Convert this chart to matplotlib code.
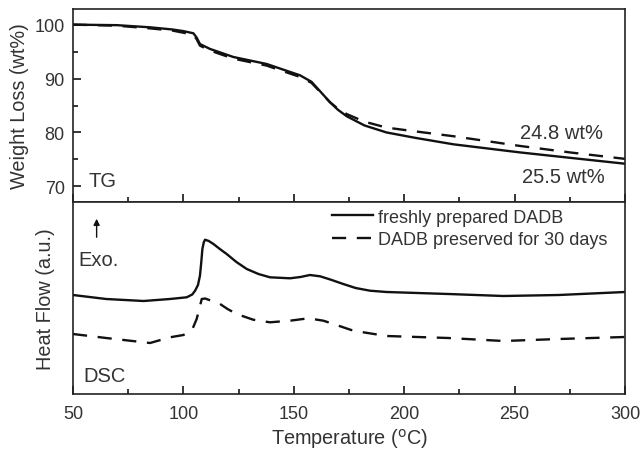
import matplotlib
matplotlib.use('Agg')
import matplotlib.pyplot as plt
import numpy as np

plt.rcParams['font.family'] = ['Liberation Sans', 'DejaVu Sans']

# TG curves (wt%)
tg_T = [50, 70, 85, 95, 100, 104.5, 106, 107.5, 112, 122.6, 137.7, 152.8, 158, 162, 166.4, 170, 174, 182, 192, 205, 222.3, 252.4, 275, 300]
tg_fresh = [100, 99.9, 99.5, 99.1, 98.8, 98.4, 97.6, 96.4, 95.5, 94.0, 92.7, 90.6, 89.4, 87.6, 85.6, 84.2, 83.0, 81.3, 80.0, 79.0, 77.8, 76.3, 75.3, 74.2]
tg_aged = [100, 99.8, 99.3, 98.9, 98.5, 98.1, 97.3, 96.1, 95.2, 93.7, 92.4, 90.3, 89.2, 87.5, 85.6, 84.4, 83.4, 82.0, 80.9, 80.2, 79.3, 77.5, 76.3, 75.1]

# DSC curves (a.u.)
dsc_T_fresh = [50, 65, 82, 93.9, 101.5, 104, 105.3, 106.6, 107.5, 108.1, 108.6, 109.2, 109.8, 111.5, 113.6, 116.5, 119.6, 124, 128.7, 134, 139.2, 148.3, 153, 157.3, 161.9, 166.5, 172.4, 178, 184.5, 192, 220, 244.9, 270, 300]
dsc_fresh = [9.9, 9.5, 9.3, 9.5, 9.67, 9.95, 10.33, 10.9, 11.83, 13.2, 14.5, 15.15, 15.43, 15.3, 15.0, 14.5, 14.0, 13.2, 12.5, 12.0, 11.67, 11.57, 11.7, 11.9, 11.77, 11.45, 11.0, 10.6, 10.33, 10.2, 10.0, 9.8, 9.9, 10.2]
dsc_T_aged = [50, 65, 84.9, 93.9, 100, 102.2, 104.3, 106, 107.3, 108.3, 109.8, 113, 116.6, 120, 124.1, 131.6, 139.2, 148.3, 156.6, 163.4, 168, 172.4, 176, 181.5, 192, 220, 244.9, 270, 300]
dsc_aged = [6.0, 5.6, 5.1, 5.67, 5.9, 6.17, 6.6, 7.5, 8.6, 9.5, 9.55, 9.3, 9.0, 8.5, 8.0, 7.43, 7.17, 7.33, 7.57, 7.33, 7.0, 6.67, 6.4, 6.17, 5.8, 5.6, 5.3, 5.5, 5.7]

txt = '#333333'
ln = '#111111'
dash = (0, (6, 4.5))

fig = plt.figure(figsize=(6.44, 4.56), dpi=100)
ax1 = fig.add_axes([73/644, 1-203/456, 552/644, 193/456])
ax2 = fig.add_axes([73/644, 1-395/456, 552/644, 192/456], sharex=ax1)

ax1.plot(tg_T, tg_fresh, color=ln, lw=1.7)
ax1.plot(tg_T, tg_aged, color=ln, lw=1.7, ls=dash)
ax1.set_ylim(67.1, 102.9)
ax1.set_yticks([70, 80, 90, 100])
ax1.set_yticks([75, 85, 95], minor=True)
ax1.set_ylabel('Weight Loss (wt%)', fontsize=14.3, color=txt)
ax1.yaxis.set_label_coords(-0.08, 0.5)
ax1.text(57.2, 71.0, 'TG', fontsize=14.5, color=txt, va='center')
ax1.text(252.4, 80.05, '24.8 wt%', fontsize=14.5, color=txt, va='center')
ax1.text(253.3, 71.9, '25.5 wt%', fontsize=14.5, color=txt, va='center')
ax1.tick_params(axis='x', labelbottom=False)

ax2.plot(dsc_T_fresh, dsc_fresh, color=ln, lw=1.7, label='freshly prepared DADB')
ax2.plot(dsc_T_aged, dsc_aged, color=ln, lw=1.7, ls=dash, label='DADB preserved for 30 days')
ax2.set_ylim(0, 19.2)
ax2.set_yticks([])
ax2.set_ylabel('Heat Flow (a.u.)', fontsize=14.3, color=txt)
ax2.yaxis.set_label_coords(-0.032, 0.5)
ax2.set_xlabel('Temperature ($^{\\rm o}$C)', fontsize=14.3, color=txt, labelpad=3)
ax2.legend(loc='upper left', bbox_to_anchor=(0.469, 0.965), frameon=False, fontsize=13,
           handlelength=2.3, handletextpad=0.28, borderpad=0, borderaxespad=0,
           labelspacing=0.3, labelcolor=txt)
ax2.annotate('', xy=(60.7, 17.8), xytext=(60.7, 15.4),
             arrowprops=dict(arrowstyle='-|>', color=ln, lw=1.0, mutation_scale=9))
ax2.text(52.3, 13.5, 'Exo.', fontsize=14.5, color=txt, va='center')
ax2.text(54.5, 1.8, 'DSC', fontsize=14.5, color=txt, va='center')

ax1.set_xlim(50, 300)
ax1.set_xticks([50, 100, 150, 200, 250, 300])
ax1.set_xticks([75, 125, 175, 225, 275], minor=True)

for ax in (ax1, ax2):
    for s in ax.spines.values():
        s.set_color('#222222')
        s.set_linewidth(1.2)
    ax.tick_params(which='major', direction='in', length=6, width=1.1, labelsize=13,
                   labelcolor=txt, pad=6)
    ax.tick_params(which='minor', direction='in', length=3.5, width=1.1)
ax2.tick_params(axis='x', which='major', pad=8)

fig.savefig('out.png', dpi=100)
